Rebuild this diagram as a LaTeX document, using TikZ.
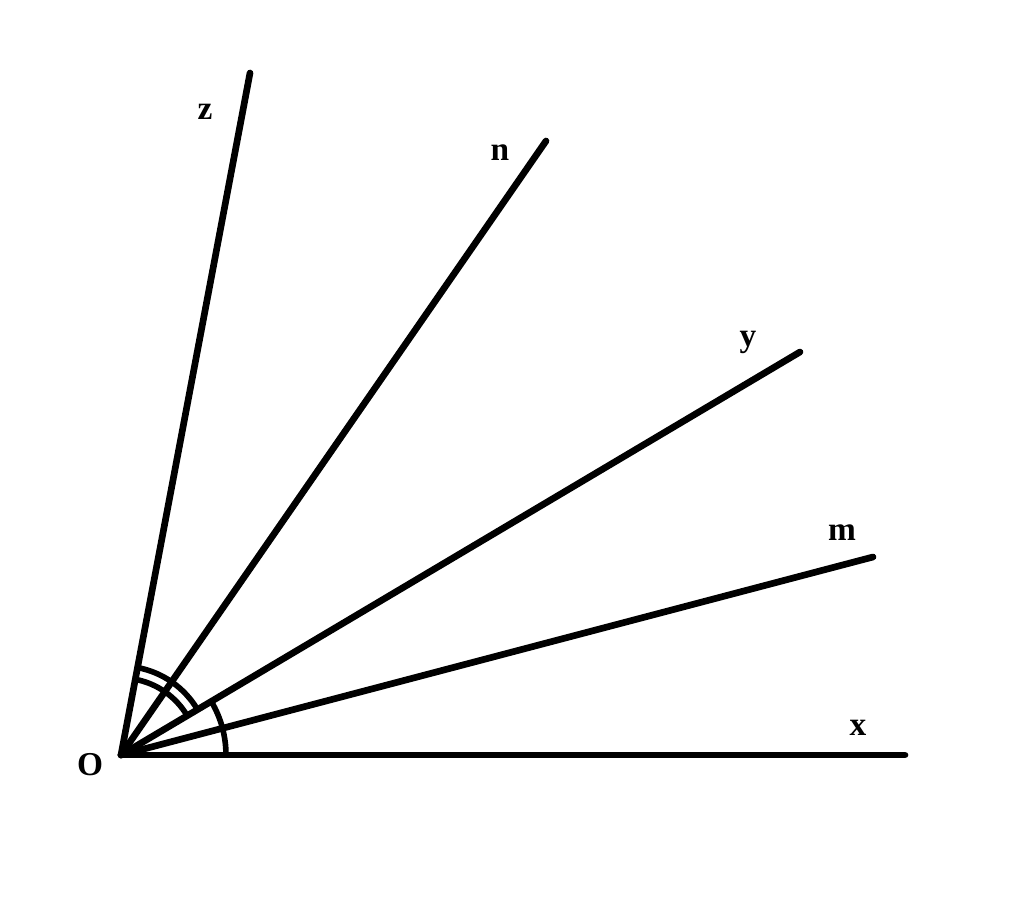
\documentclass[tikz,border=0pt]{standalone}
\usepackage{fontspec}
\setmainfont{Liberation Serif}
\begin{document}
\begin{tikzpicture}[x=0.02cm,y=0.02cm,line cap=round,
    ray/.style={line width=3.8pt},
    anglemark/.style={line width=3.2pt},
    lbl/.style={font=\bfseries\fontsize{19}{22}\selectfont}]
    \useasboundingbox (0,0) rectangle (1024,902);
    \coordinate (O) at (121,147);
    \coordinate (X) at (905,147);
    \coordinate (M) at (873,345);
    \coordinate (Y) at (800,550);
    \coordinate (N) at (546,761);
    \coordinate (Z) at (250,829);
    \draw[ray] (O) -- (X);
    \draw[ray] (O) -- (M);
    \draw[ray] (O) -- (Y);
    \draw[ray] (O) -- (N);
    \draw[ray] (O) -- (Z);
    \draw[anglemark] ([shift={(79.3:1.78cm)}]O) arc[start angle=79.3,end angle=30.7,radius=1.78cm];
    \draw[anglemark] ([shift={(79.3:1.54cm)}]O) arc[start angle=79.3,end angle=30.7,radius=1.54cm];
    \draw[anglemark] ([shift={(30.7:2.1cm)}]O) arc[start angle=30.7,end angle=0,radius=2.1cm];
    \node[lbl] (lO) at (90,137) {O};
    \node[lbl] (lx) at (858,174) {x};
    \node[lbl] (lm) at (842,369) {m};
    \node[lbl] (ly) at (748,560) {y};
    \node[lbl] (ln) at (500,749) {n};
    \node[lbl] (lz) at (205,790) {z};
\end{tikzpicture}
\end{document}
